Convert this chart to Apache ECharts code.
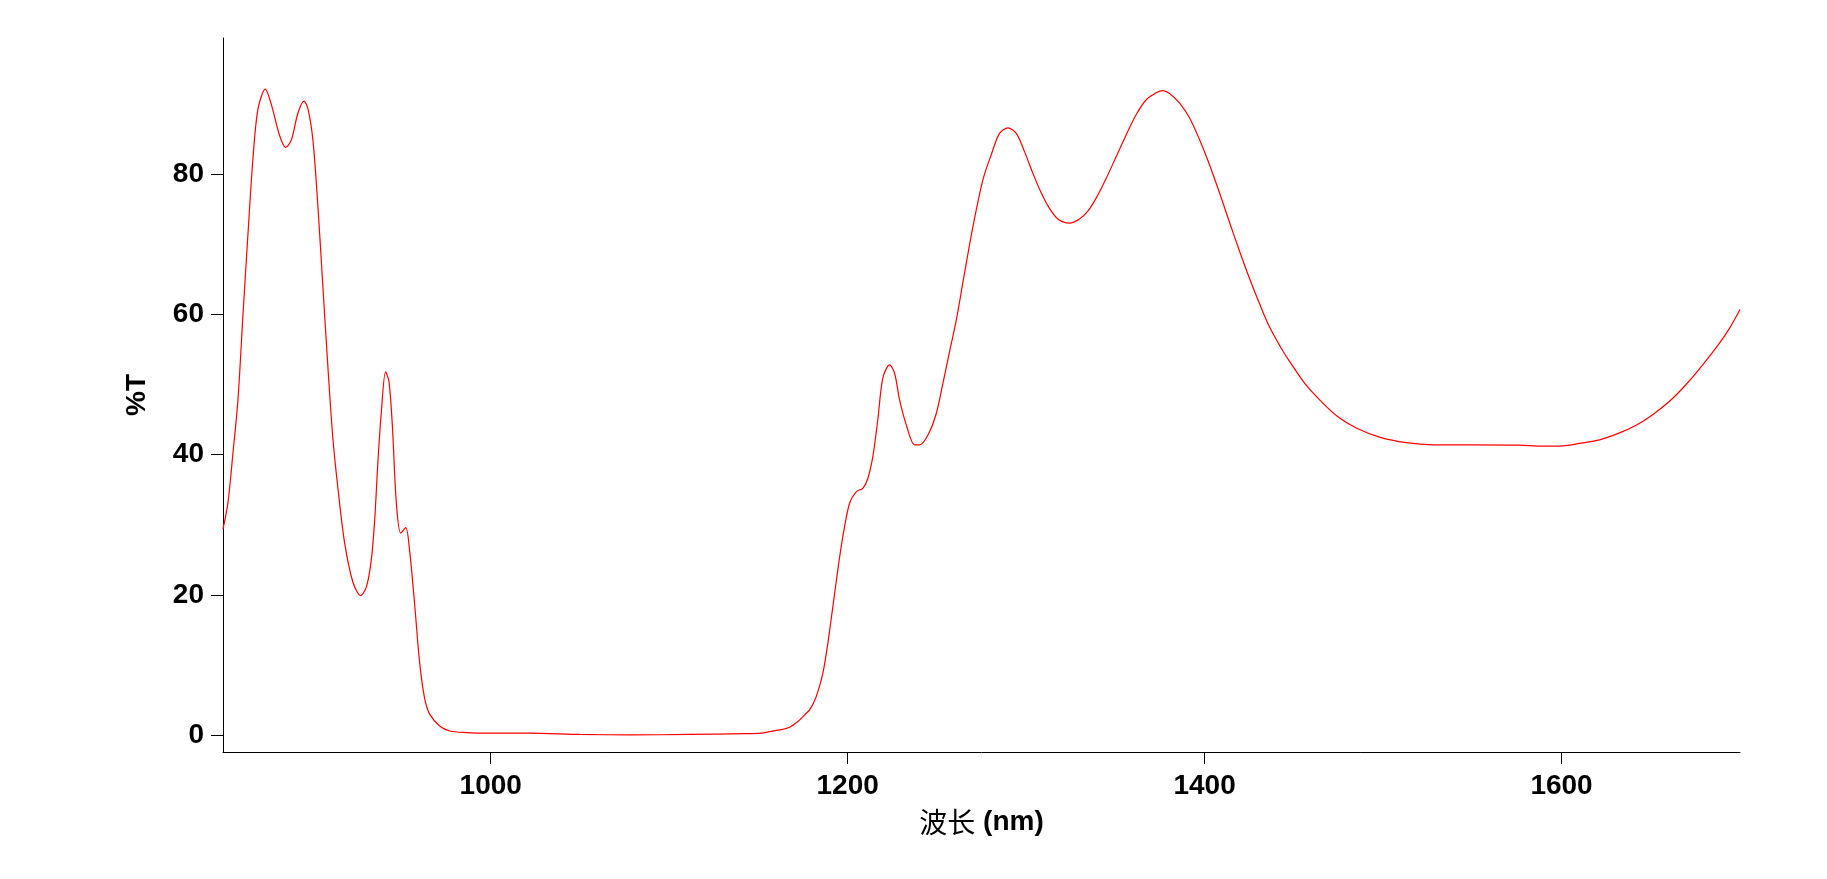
<!DOCTYPE html>
<html>
<head>
<meta charset="utf-8">
<script src="https://cdn.jsdelivr.net/npm/echarts@6/dist/echarts.min.js"></script>
<style>
html,body{margin:0;padding:0;background:#fff;}
#chart{width:1827px;height:879px;}
</style>
</head>
<body>
<div id="chart"></div>
<script>
// Wavelength (nm)
const wavelengths = [850,852.8,855.6,858.4,861.2,864.0,866.8,869.6,873.7,877.1,881.7,885.1,888.2,892.0,895.4,897.6,900.4,903.2,906.0,908.8,911.6,914.4,918.1,922.8,927.1,930.3,933.1,935.0,936.8,938.7,941.1,943.0,944.9,947.1,949.6,952.4,954.6,957.4,960.2,963.0,965.8,971.4,977.0,986.4,997.6,1021.8,1049.8,1077.8,1111.5,1142.3,1151.6,1156.3,1161.9,1167.5,1172.1,1175.9,1178.7,1182.4,1186.1,1188.9,1191.7,1194.5,1197.3,1201.1,1204.8,1208.5,1211.3,1214.1,1216.9,1219.7,1223.5,1226.3,1229.1,1232.9,1237.5,1240.3,1245.0,1249.7,1253.4,1257.1,1260.9,1265.5,1270.2,1275.8,1280.5,1285.1,1289.8,1294.5,1299.1,1303.8,1308.5,1313.1,1317.8,1324.3,1329.9,1334.6,1339.3,1344.9,1350.5,1356.1,1361.7,1367.3,1372.9,1376.6,1380.4,1386.0,1391.6,1397.2,1402.8,1408.4,1414.0,1419.6,1425.2,1430.8,1436.4,1443.8,1447.6,1456.0,1465.3,1474.7,1485.0,1498.0,1513.0,1527.9,1550.3,1576.4,1589.5,1600.7,1610.1,1621.3,1632.5,1641.8,1651.1,1660.5,1669.8,1679.1,1688.5,1694.1,1700];
// Transmittance (%T)
const transmittance = [29.4,33.2,40.3,47.9,60.0,71.5,82.3,89.3,92.1,89.9,85.5,83.8,84.8,88.7,90.4,89.3,84.8,75.3,63.8,52.4,42.2,35.2,27.5,21.8,19.9,21.1,25.0,30.7,39.0,46.0,51.8,50.4,44.1,33.2,28.8,29.6,26.2,18.6,10.3,5.2,3.0,1.3,0.6,0.37,0.28,0.28,0.1,0.04,0.1,0.22,0.3,0.5,0.75,1.14,1.94,2.9,3.6,5.5,8.8,13.1,18.3,23.6,28.3,33.1,34.7,35.2,36.6,39.7,45.0,50.9,52.8,51.6,47.8,44.2,41.4,41.4,42.8,45.9,50.2,54.7,59.2,65.9,72.5,79.2,82.8,85.8,86.6,85.8,83.2,80.1,77.3,75.1,73.6,73.0,73.6,74.7,76.6,79.4,82.5,85.6,88.5,90.6,91.6,91.9,91.5,90.1,88.0,84.9,81.3,77.3,73.1,69.0,65.1,61.5,58.2,54.8,53.3,50.2,47.6,45.4,43.8,42.5,41.7,41.4,41.4,41.35,41.2,41.25,41.6,42.1,43.1,44.2,45.7,47.6,50.0,52.8,55.9,58.0,60.7];
// Tick labels
const xTicks = [1000,1200,1400,1600];
const yTicks = [0,20,40,60,80];

const chart = echarts.init(document.getElementById('chart'), null, {renderer:'canvas'});
const labelFont = {fontFamily:'"Liberation Sans", Arial, sans-serif', fontWeight:'bold', fontSize:28, color:'#000'};
chart.setOption({
  animation:false,
  backgroundColor:'#fff',
  grid:{left:223, right:87, top:38, bottom:127, containLabel:false},
  xAxis:{
    type:'value', min:850, max:1700,
    name:'{c|波长}{b| (nm)}', nameLocation:'middle', nameGap:56,
    nameTextStyle:{rich:{
      c:{fontFamily:'"Noto Sans CJK SC", sans-serif', fontSize:28, color:'#000'},
      b:{fontFamily:'"Liberation Sans", Arial, sans-serif', fontWeight:'bold', fontSize:28, color:'#000'}
    }},
    axisLine:{show:true, onZero:false, lineStyle:{color:'#000', width:1}},
    axisTick:{show:true, inside:false, length:12, customValues:xTicks, lineStyle:{color:'#000', width:1}},
    axisLabel:Object.assign({margin:20, customValues:xTicks, formatter:v=>String(v)}, labelFont),
    splitLine:{show:false}
  },
  yAxis:{
    type:'value', min:-2.4, max:99.4,
    name:'%T', nameLocation:'middle', nameGap:72, nameRotate:90,
    nameTextStyle:{fontFamily:'"Liberation Sans", Arial, sans-serif', fontWeight:'bold', fontSize:28, color:'#000'},
    axisLine:{show:true, onZero:false, lineStyle:{color:'#000', width:1}},
    axisTick:{show:true, inside:false, length:12, customValues:yTicks, lineStyle:{color:'#000', width:1}},
    axisLabel:Object.assign({margin:19, customValues:yTicks, formatter:v=>String(v)}, labelFont),
    splitLine:{show:false}
  },
  series:[{
    type:'line',
    data:wavelengths.map((w,i)=>[w, transmittance[i]]),
    showSymbol:false,
    smooth:0.3,
    lineStyle:{color:'#ff0000', width:1.2},
    silent:true
  }]
});
</script>
</body>
</html>
